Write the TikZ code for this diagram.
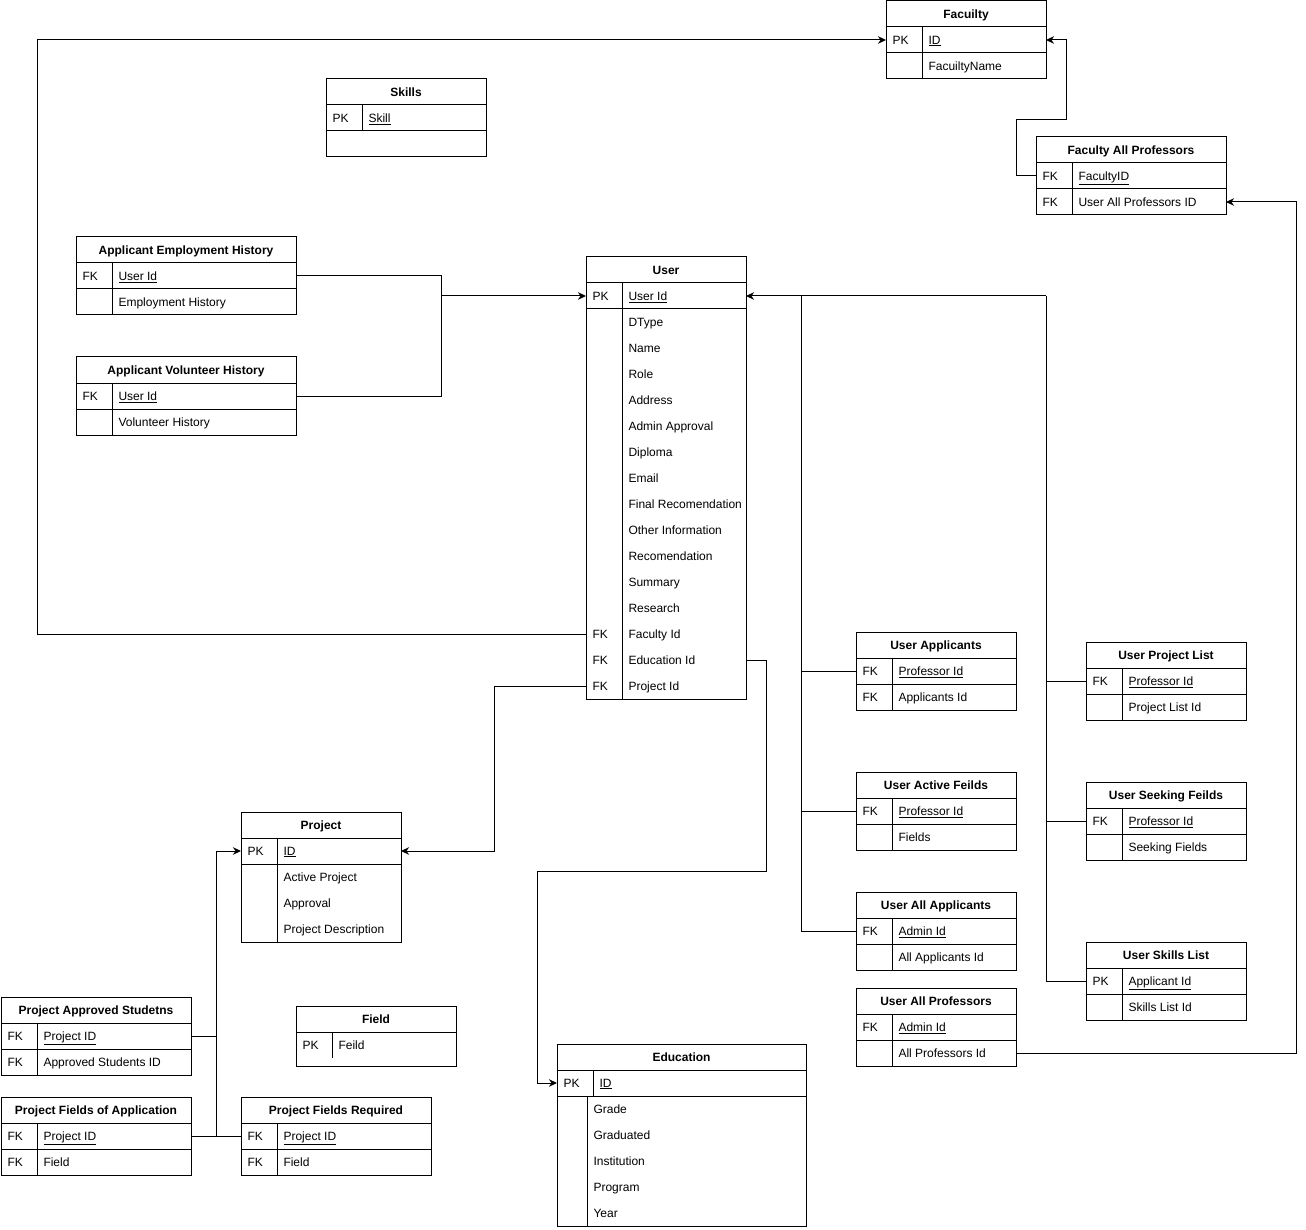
\documentclass[tikz,border=0pt]{standalone}
\usepackage{fontspec}
\setmainfont{Liberation Sans}
\usetikzlibrary{arrows.meta}

\tikzset{
  head/.style={draw, anchor=north west, minimum height=26pt, inner sep=0pt, outer sep=0pt,
    text height=8.5pt, text depth=0pt, font=\bfseries},
  rowc/.style={anchor=north west, minimum height=26pt, inner sep=0pt, outer sep=0pt},
  keyt/.style={anchor=west, inner sep=0pt, text height=8.5pt, text depth=0pt},
  fldt/.style={anchor=west, inner sep=0pt, text height=8.5pt, text depth=0pt},
  arr/.style={-{Stealth[length=8pt,width=7.5pt,inset=2.5pt]}}
}

% table: [divider of later rows] name, corner, width, title, key/field rows, extra height
\newcommand{\ertable}[7][36]{
  \node[head, minimum width=#4pt] (#2) at (#3) {#5};
  \foreach \k/\f [count=\i] in {#6}{
    \ifnum\i=1 \def\dv{36}\else\def\dv{#1}\fi
    \node[rowc, minimum width=#4pt] (#2-\i) at ([yshift={-26pt*(\i-1)}]#2.south west) {};
    \node[keyt] at ([xshift=6pt]#2-\i.west) {\k};
    \node[fldt] at ([xshift={(\dv+6)*1pt}]#2-\i.west) {\f};
    \draw ([xshift={\dv*1pt}]#2-\i.north west) -- ([xshift={\dv*1pt}]#2-\i.south west);
    \ifnum\i=2 \draw (#2-\i.north west) -- (#2-\i.north east);\fi
    \xdef\lastrow{\i}
  }
  \draw (#2.north west) rectangle ([yshift={-#7pt}]#2-\lastrow.south east);
}

\begin{document}
\fontsize{12}{14}\selectfont
\begin{tikzpicture}[x=1pt, y=-1pt, line width=1pt]
\useasboundingbox (0,0) rectangle (1306,1230);

\ertable{fac}{886,1}{160}{Facuilty}{PK/\underline{ID}, /FacuiltyName}{0}
\ertable{skl}{326,79}{160}{Skills}{PK/\underline{Skill}}{26}
\draw (skl-1.south west) -- (skl-1.south east);
\ertable{fap}{1036,137}{190}{Faculty All Professors}{FK/\underline{FacultyID}, FK/User All Professors ID}{0}
\ertable{aeh}{76,237}{220}{Applicant Employment History}{FK/\underline{User Id}, /Employment History}{0}
\ertable{avh}{76,357}{220}{Applicant Volunteer History}{FK/\underline{User Id}, /Volunteer History}{0}

\ertable{usr}{586,257}{160}{User}{PK/\underline{User Id}, /DType, /Name, /Role, /Address,
  /Admin Approval, /Diploma, /Email, /Final Recomendation, /Other Information,
  /Recomendation, /Summary, /Research, FK/Faculty Id, FK/Education Id, FK/Project Id}{0}

\ertable{uap}{856,632}{160}{User Applicants}{FK/\underline{Professor Id}, FK/Applicants Id}{0}
\ertable{uaf}{856,772}{160}{User Active Feilds}{FK/\underline{Professor Id}, /Fields}{0}
\ertable{uaa}{856,892}{160}{User All Applicants}{FK/\underline{Admin Id}, /All Applicants Id}{0}
\ertable{uapr}{856,988}{160}{User All Professors}{FK/\underline{Admin Id}, /All Professors Id}{0}
\ertable{upl}{1086,642}{160}{User Project List}{FK/\underline{Professor Id}, /Project List Id}{0}
\ertable{usf}{1086,782}{160}{User Seeking Feilds}{FK/\underline{Professor Id}, /Seeking Fields}{0}
\ertable{usl}{1086,942}{160}{User Skills List}{PK/\underline{Applicant Id}, /Skills List Id}{0}

\ertable{prj}{241,812}{160}{Project}{PK/\underline{ID}, /Active Project, /Approval, /Project Description}{0}
\ertable{fld}{296,1006}{160}{Field}{PK/Feild}{8}
\ertable{pas}{1,997}{190}{Project Approved Studetns}{FK/\underline{Project ID}, FK/Approved Students ID}{0}
\ertable{pfa}{1,1097}{190}{Project Fields of Application}{FK/\underline{Project ID}, FK/Field}{0}
\ertable{pfr}{241,1097}{190}{Project Fields Required}{FK/\underline{Project ID}, FK/Field}{0}
\ertable[30]{edu}{557,1044}{249}{Education}{PK/\underline{ID}, /Grade, /Graduated, /Institution, /Program, /Year}{0}

% foreign keys
\draw[arr] (usr-14.west) -- ++(-549,0) |- (fac-1.west);
\draw[arr] (fap-1.west) -- ++(-20,0) -- ++(0,-56) -- ++(50,0) |- (fac-1.east);
\draw[arr] (uapr-2.east) -- ++(280,0) |- (fap-2.east);

\coordinate (j1) at ([xshift=-145pt]usr-1.west);
\draw (aeh-1.east) -| (j1);
\draw (avh-1.east) -| (j1);
\draw[arr] (j1) -- (usr-1.west);

\draw[arr] (usr-16.west) -- ++(-92,0) |- (prj-1.east);
\draw[arr] (usr-15.east) -- ++(20,0) -- ++(0,211) -- ++(-229,0) |- (edu-1.west);

\coordinate (j2) at ([xshift=55pt]usr-1.east);
\coordinate (j3) at ([xshift=300pt]usr-1.east);
\draw[arr] (j2) -- (usr-1.east);
\draw (j2) -- (j3);
\draw (j2) |- (uap-1.west);
\draw (j2) |- (uaf-1.west);
\draw (j2) |- (uaa-1.west);
\draw (j3) |- (upl-1.west);
\draw (j3) |- (usf-1.west);
\draw (j3) |- (usl-1.west);

\coordinate (j4) at ([xshift=-25pt]prj-1.west);
\draw[arr] (j4) -- (prj-1.west);
\draw (j4) |- (pas-1.east);
\draw (j4) |- (pfa-1.east);
\draw (pfa-1.east) -- (pfr-1.west);
\end{tikzpicture}
\end{document}
